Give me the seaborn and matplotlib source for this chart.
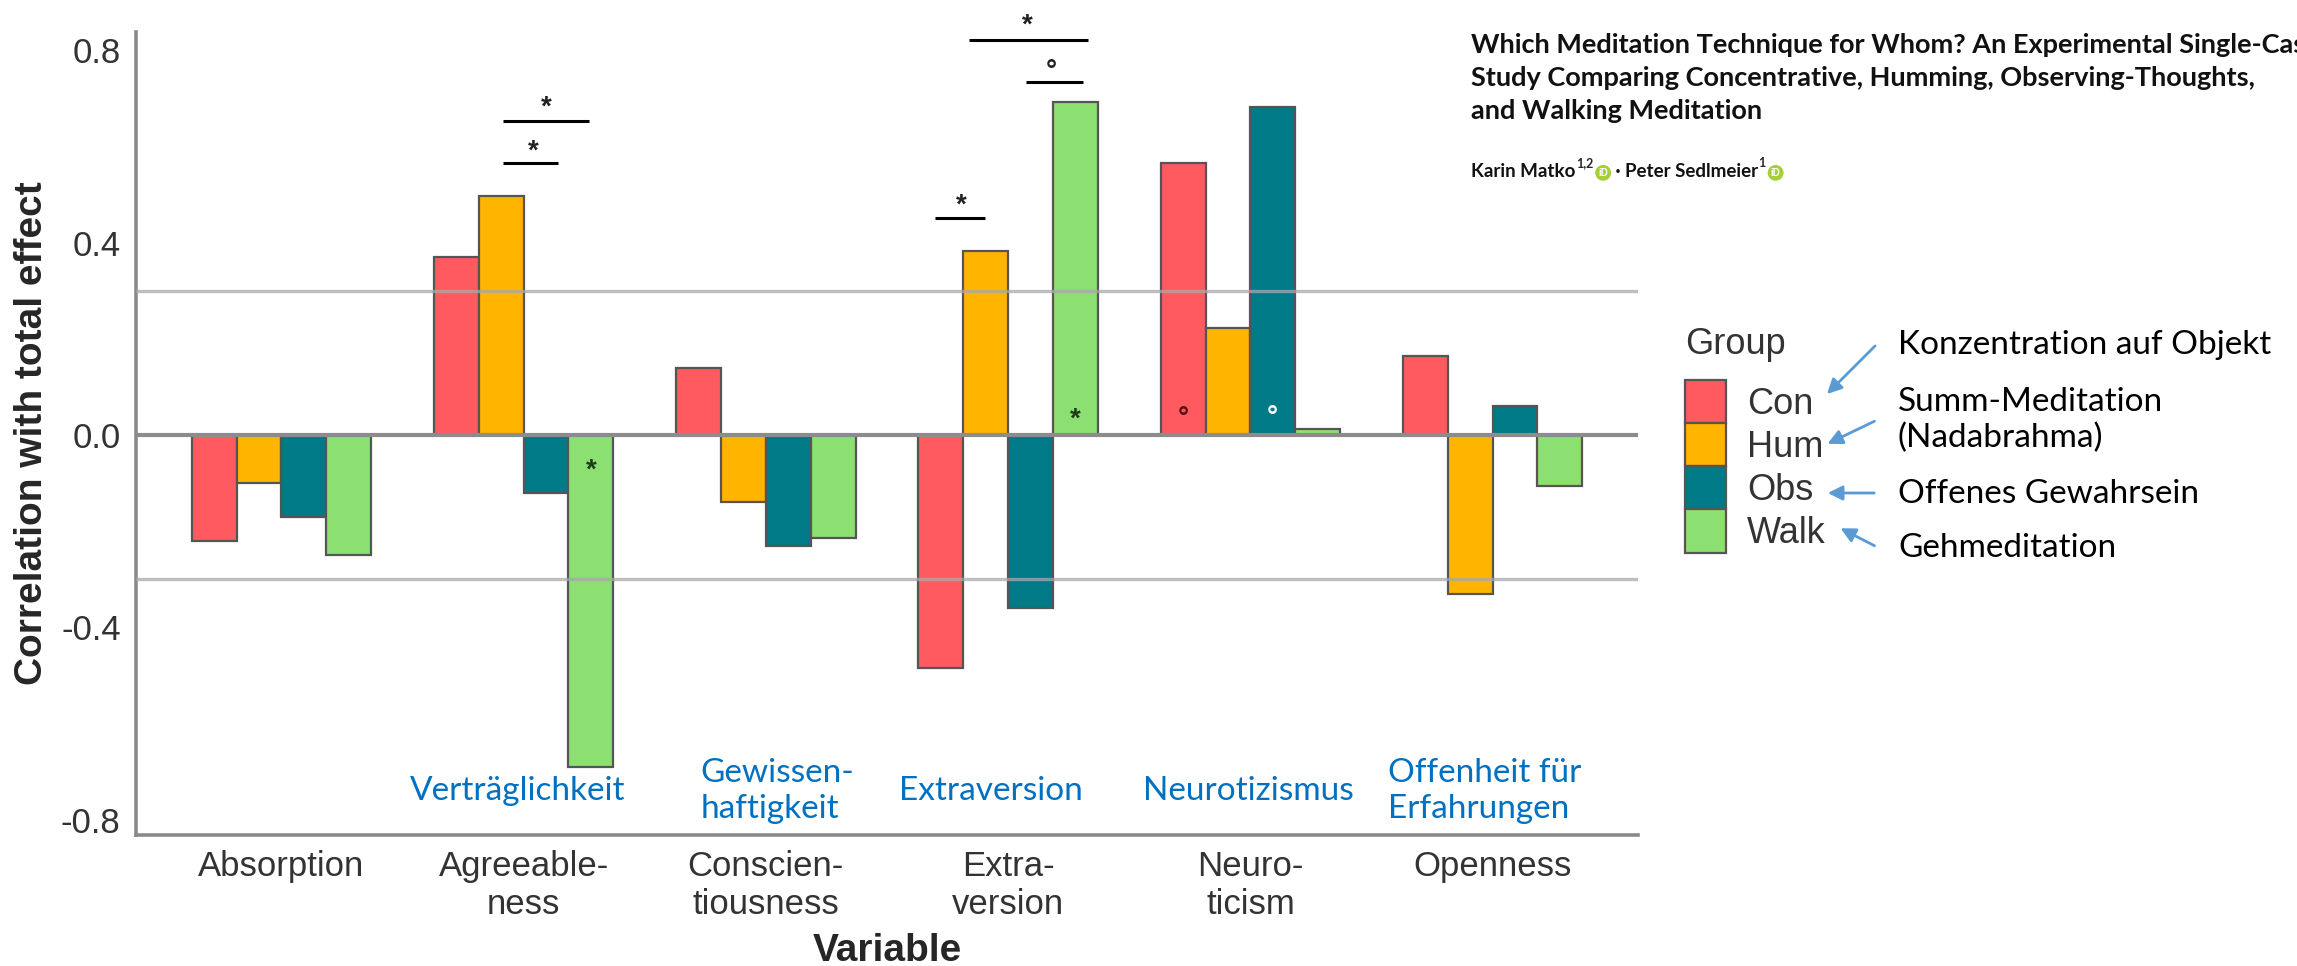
import matplotlib
matplotlib.use("Agg")
import pandas as pd
import matplotlib.pyplot as plt
from matplotlib.patches import FancyArrowPatch
import seaborn as sns

# --- data ---
variables = ["Absorption", "Agreeableness", "Conscientiousness",
             "Extraversion", "Neuroticism", "Openness"]
tick_labels = ["Absorption", "Agreeable-\nness", "Conscien-\ntiousness",
               "Extra-\nversion", "Neuro-\nticism", "Openness"]
groups = ["Con", "Hum", "Obs", "Walk"]
con = [-0.22, 0.37, 0.14, -0.485, 0.566, 0.165]
hum = [-0.10, 0.496, -0.14, 0.383, 0.222, -0.33]
obs = [-0.17, -0.12, -0.23, -0.36, 0.681, 0.061]
walk = [-0.25, -0.69, -0.215, 0.692, 0.0125, -0.107]
colors = ["#FF5A5F", "#FFB400", "#007A87", "#8CE071"]

german_vars = ["Verträglichkeit", "Gewissen-\nhaftigkeit", "Extraversion",
               "Neurotizismus", "Offenheit für\nErfahrungen"]
german_groups = ["Konzentration auf Objekt", "Summ-Meditation\n(Nadabrahma)",
                 "Offenes Gewahrsein", "Gehmeditation"]
title_lines = ["Which Meditation Technique for Whom? An Experimental Single-Case",
               "Study Comparing Concentrative, Humming, Observing-Thoughts,",
               "and Walking Meditation"]

# significance brackets (variable index, x offsets, height, mark)
sig_var = [1, 1, 3, 3, 3]
sig_x0 = [-0.085, -0.085, -0.16, 0.074, -0.303]
sig_x1 = [0.271, 0.144, 0.328, 0.307, -0.095]
sig_y = [0.652, 0.565, 0.821, 0.733, 0.451]
sig_mark = ["*", "*", "*", "°", "*"]
sig_mark_x = [0.095, 0.038, 0.078, 0.18, -0.195]
sig_mark_y = [0.695, 0.604, 0.865, 0.77, 0.491]

# marks inside single bars
in_var = [1, 3, 4, 4]
in_group = ["Walk", "Walk", "Con", "Obs"]
in_y = [-0.055, 0.053, 0.054, 0.055]
in_mark = ["*", "*", "°", "°"]
in_color = ["#1f3d1a", "#1f3d1a", "#5a1010", "white"]

W, H = 2297, 966
BAR_W = 0.74


def fxy(x, y):
    # pixel position (from top-left) -> figure fraction
    return x / W, 1 - y / H


def main():
    df = pd.DataFrame({
        "Variable": variables * 4,
        "Group": [g for g in groups for _ in variables],
        "r": con + hum + obs + walk,
    })

    sns.set_theme(style="white")
    plt.rcParams["font.family"] = ["Liberation Sans", "DejaVu Sans"]

    fig = plt.figure(figsize=(W / 100, H / 100), dpi=100)
    ax = fig.add_axes([136 / W, 1 - 835 / H, (1638 - 136) / W, (835 - 32) / H])
    renderer = fig.canvas.get_renderer()

    sns.barplot(data=df, x="Variable", y="r", hue="Group", order=variables,
                hue_order=groups, palette=colors, saturation=1, width=BAR_W,
                edgecolor="#555555", linewidth=1.6, ax=ax, zorder=3)

    ax.axhline(0, color="#8c8c8c", lw=3, zorder=6)
    for yy in (0.3, -0.3):
        ax.axhline(yy, color="#a8a8a8", lw=2.4, alpha=0.75, zorder=6)

    ax.set_xlim(-0.6, 5.6)
    ax.set_ylim(-0.832, 0.838)
    ax.set_yticks([-0.8, -0.4, 0.0, 0.4, 0.8])
    ax.set_yticklabels(["-0.8", "-0.4", "0.0", "0.4", "0.8"])
    ax.set_xticks(range(len(variables)))
    ax.set_xticklabels(tick_labels)
    ax.tick_params(axis="both", labelsize=25, labelcolor="#333333",
                   color="#555555", length=5, width=1.5, pad=6)
    for side in ("top", "right"):
        ax.spines[side].set_visible(False)
    for side in ("left", "bottom"):
        ax.spines[side].set_color("#8a8a8a")
        ax.spines[side].set_linewidth(2.6)

    ax.set_xlabel("Variable", fontsize=28, fontweight="bold", labelpad=8)
    ax.set_ylabel("Correlation with total effect", fontsize=28,
                  fontweight="bold", labelpad=8)

    # significance brackets
    for v, x0, x1, y, m, mx, my in zip(sig_var, sig_x0, sig_x1, sig_y,
                                       sig_mark, sig_mark_x, sig_mark_y):
        ax.plot([v + x0, v + x1], [y, y], color="black", lw=2.2, zorder=7,
                solid_capstyle="butt", clip_on=False)
        ax.annotate(m, (v + mx, my), xytext=(0, -5), textcoords="offset points",
                    ha="center", va="center", fontsize=20, color="#222222",
                    fontweight="bold", zorder=7, annotation_clip=False)

    step = BAR_W / len(groups)
    for v, g, y, m, c in zip(in_var, in_group, in_y, in_mark, in_color):
        gi = groups.index(g)
        x = v + (gi - (len(groups) - 1) / 2) * step
        ax.annotate(m, (x, y), xytext=(0, -7), textcoords="offset points",
                    ha="center", va="center", fontsize=20, color=c,
                    fontweight="bold", zorder=8)

    # German variable names in blue
    ger_font = ["Lato", "DejaVu Sans"]
    ger_pos = [(0.975, "center"), (1.73, "left"), (2.93, "center"),
               (3.99, "center"), (4.57, "left")]
    for txt, (gx, ha) in zip(german_vars, ger_pos):
        ax.text(gx, -0.74, txt, ha=ha, va="center", fontsize=24,
                color="#0070C0", family=ger_font, linespacing=1.25, zorder=8)

    # legend (ggplot-like: title on top, stacked square keys)
    sns.move_legend(ax, "upper left", bbox_to_anchor=fxy(1685, 327),
                    bbox_transform=fig.transFigure, title="Group",
                    frameon=False, fontsize=26, title_fontsize=26,
                    handlelength=1.14, handleheight=1.46, labelspacing=0.0,
                    handletextpad=0.58, borderpad=0, borderaxespad=0,
                    alignment="left")
    leg = ax.get_legend()
    leg._legend_box.sep = 13
    for t in leg.get_texts():
        t.set_color("#333333")
    leg.get_title().set_color("#333333")
    for h in leg.legend_handles:
        h.set_edgecolor("#555555")
        h.set_linewidth(1.6)

    # German group names with arrows
    ger_y = [345, 420, 494, 548]
    for txt, yy in zip(german_groups, ger_y):
        fig.text(*fxy(1898, yy), txt, ha="left", va="center", fontsize=24,
                 family=ger_font, color="black", linespacing=1.25)
    arrows = [((1877, 344), (1825, 396)), ((1877, 420), (1825, 445)),
              ((1877, 493), (1825, 493)), ((1877, 547), (1838, 527))]
    for tail, head in arrows:
        fig.add_artist(FancyArrowPatch(
            fxy(*tail), fxy(*head), transform=fig.transFigure,
            arrowstyle="-|>", mutation_scale=22, color="#5B9BD5", lw=2))

    # paper title, sized so that its second line spans ~785 px
    title_font = ["Lato", "DejaVu Sans"]
    probe = fig.text(0, 0, title_lines[1], fontsize=20, fontweight="bold",
                     family=title_font)
    tsize = 20 * 785 / probe.get_window_extent(renderer).width
    probe.remove()
    fig.text(*fxy(1471, 78), "\n".join(title_lines), ha="left", va="center",
             fontsize=tsize, fontweight="bold", family=title_font,
             color="#111111", linespacing=1.47)

    # author line with superscripts and ORCID badges
    a1 = fig.text(*fxy(1471, 177), "Karin Matko", ha="left", va="baseline",
                  fontsize=13.5, fontweight="bold", family=title_font,
                  color="#111111")
    a2 = fig.add_artist(plt.Annotation("1,2", xy=(1, 0.62), xycoords=a1,
                                       xytext=(0.5, 0), textcoords="offset points",
                                       fontsize=9, fontweight="bold",
                                       family=title_font, va="bottom"))
    badge = dict(boxstyle="circle,pad=0.3", fc="#A6CE39", ec="none")
    a3 = fig.add_artist(plt.Annotation("iD", xy=(1, 0.42), xycoords=(a2, a1),
                                       xytext=(7, 0), textcoords="offset points",
                                       fontsize=7, color="white",
                                       fontweight="bold", ha="center",
                                       va="center", bbox=badge))
    a4 = fig.add_artist(plt.Annotation(" · Peter Sedlmeier", xy=(1, 0),
                                       xycoords=(a3, a1), xytext=(2, 0),
                                       textcoords="offset points",
                                       fontsize=13.5, fontweight="bold",
                                       family=title_font, va="bottom",
                                       color="#111111"))
    a5 = fig.add_artist(plt.Annotation("1", xy=(1, 0.62), xycoords=a4,
                                       xytext=(0.5, 0), textcoords="offset points",
                                       fontsize=9, fontweight="bold",
                                       family=title_font, va="bottom"))
    fig.add_artist(plt.Annotation("iD", xy=(1, 0.42), xycoords=(a5, a1),
                                  xytext=(7, 0), textcoords="offset points",
                                  fontsize=7, color="white", fontweight="bold",
                                  ha="center", va="center", bbox=badge))

    fig.savefig("out.png", dpi=100)
    plt.close(fig)


if __name__ == "__main__":
    main()
